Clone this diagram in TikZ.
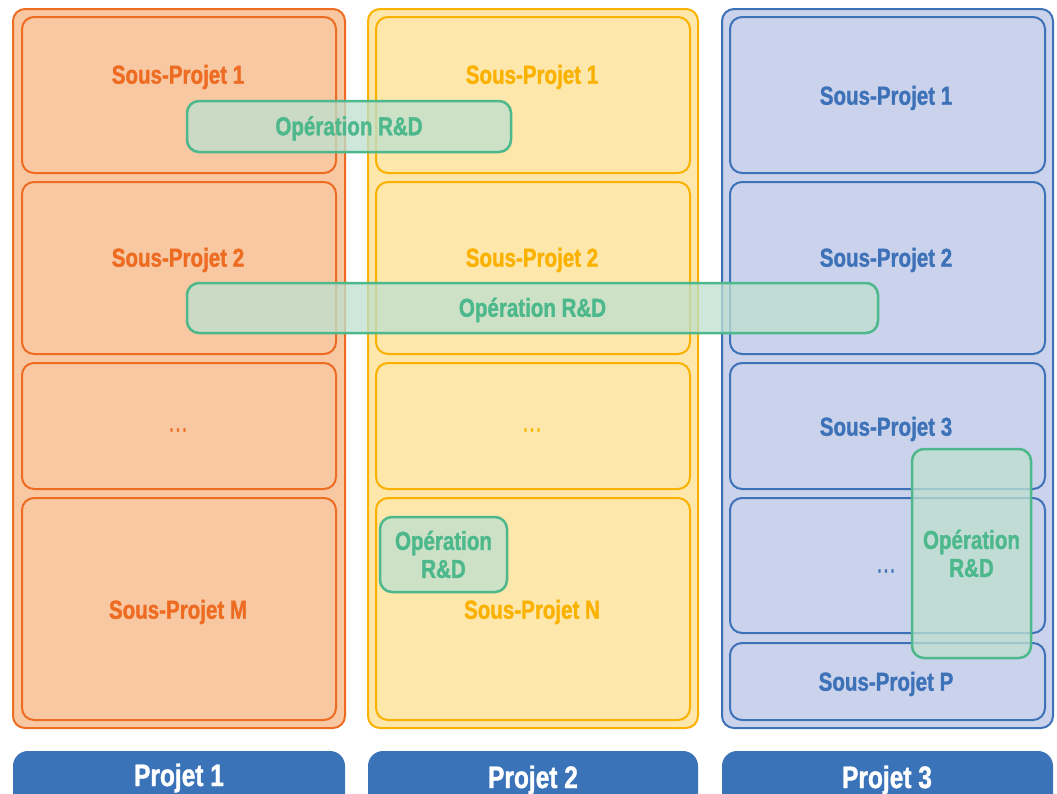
\documentclass[tikz,border=0pt]{standalone}
\usepackage{fontspec}
\setmainfont{Liberation Sans}[FakeStretch=0.79, FakeBold=1.2]
\definecolor{orangeline}{HTML}{EE6B22}
\definecolor{orangefill}{HTML}{F8C8A3}
\definecolor{yellowline}{HTML}{FBB100}
\definecolor{yellowfill}{HTML}{FDE7AA}
\definecolor{blueline}{HTML}{3D72B8}
\definecolor{bluefill}{HTML}{CAD3EB}
\definecolor{projetfill}{HTML}{3B73B9}
\definecolor{opline}{HTML}{4CB88C}
\definecolor{opfill}{RGB}{189,224,207}

\begin{document}
\begin{tikzpicture}[x=1pt, y=-1pt,
	every node/.style={font=\bfseries\fontsize{26}{28}\selectfont, align=center},
	box/.style={rounded corners=12pt, line width=2pt},
	op/.style={draw=opline, line width=2.5pt, rounded corners=12pt, fill=opfill, fill opacity=0.76, text opacity=1, text=opline, inner sep=0pt},
	dots/.style={font=\fontsize{26}{28}\selectfont}]
	\clip (0,0) rectangle (1057,793);
	% projets
	\foreach \x/\w/\c in {13/332/orange, 368/330/yellow, 722/331/blue}{
		\draw[box, draw=\c line, fill=\c fill] (\x,9) rectangle ++(\w,719);
		\fill[projetfill, rounded corners=15pt] (\x,751) rectangle ++(\w,70);
	}
	% sous-projets
	\foreach \x/\c in {22/orange, 376/yellow}
		\foreach \ya/\yb in {17/173, 182/354, 363/489, 498/720}
			\draw[box, draw=\c line] (\x,\ya) rectangle (\x+314,\yb);
	\foreach \ya/\yb in {17/173, 182/354, 363/489, 498/633, 643/720}
		\draw[box, draw=blueline] (730,\ya) rectangle (1045,\yb);

	\node[text=orangeline] (p1s1) at (178,77) {Sous-Projet 1};
	\node[text=orangeline] (p1s2) at (178,260) {Sous-Projet 2};
	\node[text=orangeline, dots] (p1d) at (178,430) {\ldots};
	\node[text=orangeline] (p1sm) at (178,612) {Sous-Projet M};

	\node[text=yellowline] (p2s1) at (532,77) {Sous-Projet 1};
	\node[text=yellowline] (p2s2) at (532,260) {Sous-Projet 2};
	\node[text=yellowline, dots] (p2d) at (532,430) {\ldots};
	\node[text=yellowline] (p2sn) at (532,612) {Sous-Projet N};

	\node[text=blueline] (p3s1) at (886,98) {Sous-Projet 1};
	\node[text=blueline] (p3s2) at (886,260) {Sous-Projet 2};
	\node[text=blueline] (p3s3) at (886,429) {Sous-Projet 3};
	\node[text=blueline, dots] (p3d) at (886,571) {\ldots};
	\node[text=blueline] (p3sp) at (886,684) {Sous-Projet P};

	% operations
	\node[op, text depth=1.5pt, minimum width=324, minimum height=51] (op1) at (349,126.5) {Opération R\&D};
	\node[op, text depth=1.5pt, minimum width=691, minimum height=50] (op2) at (532.5,308) {Opération R\&D};
	\node[op, minimum width=127, minimum height=75] (op3) at (443.5,554.5) {Opération\\R\&D};
	\node[op, minimum width=119, minimum height=209] (op4) at (971.5,553.5) {Opération\\R\&D};

	\node[text=white, font=\bfseries\fontsize{31}{34}\selectfont] (pr1) at (179,778) {Projet 1};
	\node[text=white, font=\bfseries\fontsize{31}{34}\selectfont] (pr2) at (533,780) {Projet 2};
	\node[text=white, font=\bfseries\fontsize{31}{34}\selectfont] (pr3) at (887,780) {Projet 3};
\end{tikzpicture}
\end{document}
